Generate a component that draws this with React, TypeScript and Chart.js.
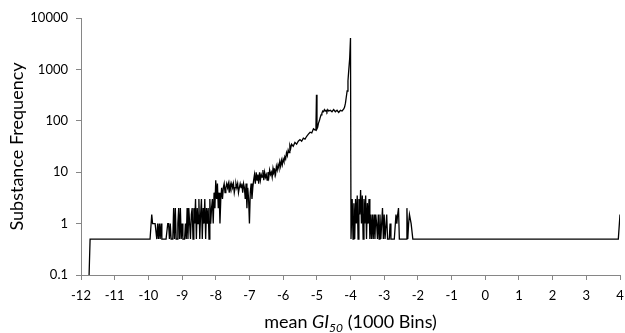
import React, { useEffect, useRef } from "react";
import { Chart, registerables } from "chart.js";

Chart.register(...registerables);

// [bin centre (mean GI50), substance frequency]; empty bins are shown as 0.5
const leftTail: number[][] = [
  [-11.76, 0.1], [-11.73, 0.5], [-10.0, 0.5],
];

const lowRegion: number[][] = [
  [-9.975, 0.5], [-9.95, 0.5], [-9.925, 0.5], [-9.9, 1.5], [-9.875, 1], [-9.85, 1], [-9.825, 1],
  [-9.8, 1], [-9.775, 1], [-9.75, 0.5], [-9.725, 1], [-9.7, 0.5], [-9.675, 1], [-9.65, 0.5],
  [-9.625, 1], [-9.6, 0.5], [-9.575, 0.5], [-9.55, 0.5], [-9.525, 0.5], [-9.5, 0.5], [-9.475, 0.5],
  [-9.45, 0.5], [-9.425, 1], [-9.4, 1], [-9.375, 0.5], [-9.35, 1], [-9.325, 0.5], [-9.3, 0.5],
  [-9.275, 0.5], [-9.25, 2], [-9.225, 0.5], [-9.2, 2], [-9.175, 0.5], [-9.15, 0.5], [-9.125, 1],
  [-9.1, 2], [-9.075, 0.5], [-9.05, 2], [-9.025, 0.5], [-9.0, 1], [-8.975, 0.5], [-8.95, 0.5],
  [-8.925, 0.5], [-8.9, 1], [-8.875, 0.5], [-8.85, 2], [-8.825, 0.5], [-8.8, 2], [-8.775, 1],
  [-8.75, 0.5], [-8.725, 1.5], [-8.7, 2], [-8.675, 0.5], [-8.65, 2], [-8.625, 1], [-8.6, 3],
  [-8.575, 0.5], [-8.55, 2], [-8.525, 1], [-8.5, 3], [-8.475, 0.5], [-8.45, 1.5], [-8.425, 3],
  [-8.4, 0.5], [-8.375, 2], [-8.35, 1], [-8.325, 3], [-8.3, 0.5], [-8.275, 2], [-8.25, 1],
  [-8.225, 2], [-8.2, 0.5], [-8.175, 3], [-8.15, 1], [-8.125, 2], [-8.1, 3], [-8.075, 1],
  [-8.05, 4], [-8.025, 2], [-8.0, 7],
];

const riseRegion: number[][] = [
  [-7.975, 3], [-7.95, 6], [-7.925, 2], [-7.9, 4], [-7.875, 1], [-7.85, 3], [-7.825, 5],
  [-7.8, 3], [-7.775, 5], [-7.75, 6], [-7.725, 4], [-7.7, 5], [-7.675, 6], [-7.65, 5],
  [-7.625, 6], [-7.6, 4], [-7.575, 6], [-7.55, 5], [-7.525, 6], [-7.5, 5], [-7.475, 6],
  [-7.45, 4], [-7.425, 5], [-7.4, 6], [-7.375, 5], [-7.35, 6], [-7.325, 4], [-7.3, 5],
  [-7.275, 6], [-7.25, 5], [-7.225, 6], [-7.2, 4], [-7.175, 6], [-7.15, 5], [-7.125, 3],
  [-7.1, 6], [-7.075, 2], [-7.05, 5], [-7.025, 3], [-7.0, 1], [-6.975, 4], [-6.95, 6],
  [-6.925, 3], [-6.9, 5], [-6.875, 7], [-6.85, 9], [-6.825, 6], [-6.8, 10], [-6.775, 7],
  [-6.75, 9], [-6.725, 6], [-6.7, 10], [-6.675, 7], [-6.65, 9], [-6.625, 8], [-6.6, 11],
  [-6.575, 7], [-6.55, 10], [-6.525, 8], [-6.5, 9], [-6.475, 7], [-6.45, 10], [-6.425, 8],
  [-6.4, 11], [-6.375, 9], [-6.35, 10], [-6.325, 8], [-6.3, 12], [-6.275, 10], [-6.25, 11],
  [-6.225, 9], [-6.2, 13], [-6.175, 11], [-6.15, 14], [-6.125, 12], [-6.1, 16], [-6.075, 13],
  [-6.05, 17], [-6.025, 14], [-6.0, 18], [-5.975, 16], [-5.95, 20], [-5.925, 18], [-5.9, 24],
  [-5.875, 21], [-5.85, 27], [-5.825, 24], [-5.8, 33], [-5.775, 29], [-5.75, 35], [-5.7, 32],
  [-5.65, 38], [-5.6, 35], [-5.55, 40], [-5.5, 43], [-5.45, 40], [-5.4, 46], [-5.35, 44],
  [-5.3, 50], [-5.25, 55], [-5.2, 60], [-5.15, 58], [-5.1, 70], [-5.05, 66], [-5.025, 80],
  [-5.01, 320], [-4.995, 70], [-4.975, 75], [-4.95, 90], [-4.925, 100], [-4.9, 115],
  [-4.875, 130], [-4.85, 140], [-4.825, 155], [-4.8, 150], [-4.775, 165], [-4.75, 155],
  [-4.725, 160], [-4.7, 150], [-4.675, 165], [-4.65, 155], [-4.6, 160], [-4.55, 150],
  [-4.5, 165], [-4.45, 150], [-4.4, 160], [-4.35, 145], [-4.3, 160], [-4.25, 155],
  [-4.2, 170], [-4.175, 185], [-4.15, 220], [-4.125, 290], [-4.1, 380], [-4.075, 600],
  [-4.05, 1000], [-4.025, 1600], [-4.0, 4100],
];

const afterPeak: number[][] = [
  [-3.985, 0.5], [-3.975, 0.5], [-3.95, 3], [-3.925, 0.5], [-3.9, 2.5], [-3.875, 0.5],
  [-3.85, 3], [-3.825, 1], [-3.8, 3.5], [-3.775, 0.5], [-3.75, 3], [-3.725, 1.5], [-3.7, 4.5],
  [-3.675, 1], [-3.65, 3.5], [-3.625, 0.5], [-3.6, 3], [-3.575, 1], [-3.55, 3.5], [-3.525, 0.5],
  [-3.5, 2.5], [-3.475, 1], [-3.45, 3], [-3.425, 0.5], [-3.4, 1.5], [-3.375, 0.5], [-3.35, 1.5],
  [-3.325, 0.5], [-3.3, 1.5], [-3.275, 0.5], [-3.25, 1.5], [-3.225, 1], [-3.2, 0.5],
  [-3.175, 1.5], [-3.15, 0.5], [-3.125, 1.5], [-3.1, 0.5], [-3.075, 1], [-3.05, 2],
  [-3.025, 0.5], [-3.0, 1.5], [-2.975, 0.5], [-2.95, 0.5], [-2.925, 1.5], [-2.9, 0.5],
  [-2.875, 0.5], [-2.85, 0.5], [-2.825, 1], [-2.8, 0.5], [-2.75, 0.5], [-2.7, 0.5],
  [-2.65, 1.5], [-2.625, 1], [-2.6, 1.5], [-2.575, 2], [-2.55, 0.5], [-2.5, 0.5], [-2.35, 0.5],
  [-2.325, 2], [-2.3, 0.5], [-2.275, 1], [-2.25, 1.5], [-2.2, 1], [-2.15, 0.5],
];

const rightTail: number[][] = [
  [3.95, 0.5], [4.0, 1.5],
];

const xTicks = [-12, -11, -10, -9, -8, -7, -6, -5, -4, -3, -2, -1, 0, 1, 2, 3, 4];
const yTicks = [0.1, 1, 10, 100, 1000, 10000];
const yTickLabels = ["0.1", "1", "10", "100", "1000", "10000"];

const FONT = "Lato, 'DejaVu Sans', sans-serif";

const xTitlePlugin = {
  id: "xTitle",
  afterDraw(chart: any) {
    const ctx = chart.ctx;
    const area = chart.chartArea;
    const parts = [
      { t: "mean ", f: `18px ${FONT}`, dy: 0 },
      { t: "GI", f: `italic 18px ${FONT}`, dy: 0 },
      { t: "50", f: `italic 12px ${FONT}`, dy: 4 },
      { t: " (1000 Bins)", f: `18px ${FONT}`, dy: 0 },
    ];
    ctx.save();
    let total = 0;
    for (const p of parts) {
      ctx.font = p.f;
      total += ctx.measureText(p.t).width;
    }
    let x = (area.left + area.right) / 2 - total / 2;
    const baseY = 328;
    ctx.fillStyle = "#000";
    ctx.textBaseline = "alphabetic";
    ctx.textAlign = "left";
    for (const p of parts) {
      ctx.font = p.f;
      ctx.fillText(p.t, x, baseY + p.dy);
      x += ctx.measureText(p.t).width;
    }
    ctx.restore();
  },
};

export default function App() {
  const ref = useRef<HTMLCanvasElement | null>(null);

  useEffect(() => {
    if (!ref.current) return;
    const points = [...leftTail, ...lowRegion, ...riseRegion, ...afterPeak, ...rightTail].map(
      ([x, y]) => ({ x, y })
    );
    const axisColor = "#868686";
    const chart = new Chart(ref.current, {
      type: "line",
      data: {
        datasets: [
          {
            data: points,
            borderColor: "#000",
            borderWidth: 1.3,
            pointRadius: 0,
            tension: 0,
            fill: false,
          },
        ],
      },
      options: {
        animation: false,
        responsive: false,
        maintainAspectRatio: false,
        layout: { padding: { top: 18, right: 5, left: 0, bottom: 0 } },
        plugins: {
          legend: { display: false },
          tooltip: { enabled: false },
        },
        scales: {
          x: {
            type: "linear",
            min: -12,
            max: 4,
            afterBuildTicks: (axis: any) => {
              axis.ticks = xTicks.map((v) => ({ value: v }));
            },
            afterFit: (scale: any) => {
              scale.height = 58;
              scale.paddingRight = 0;
              scale.paddingLeft = 0;
            },
            ticks: {
              color: "#000",
              font: { family: FONT, size: 13 },
              padding: 8,
              maxRotation: 0,
              autoSkip: false,
              callback: (v: any) => String(v),
            },
            grid: {
              display: true,
              drawOnChartArea: false,
              drawTicks: true,
              tickLength: 5,
              color: axisColor,
            },
            border: { display: true, color: axisColor, width: 1 },
          },
          y: {
            type: "logarithmic",
            min: 0.1,
            max: 10000,
            afterBuildTicks: (axis: any) => {
              axis.ticks = yTicks.map((v) => ({ value: v }));
            },
            afterFit: (scale: any) => {
              scale.width = 81;
              scale.paddingTop = 0;
              scale.paddingBottom = 0;
            },
            ticks: {
              color: "#000",
              font: { family: FONT, size: 13 },
              padding: 8,
              autoSkip: false,
              callback: (_v: any, i: number) => yTickLabels[i],
            },
            grid: {
              display: true,
              drawOnChartArea: false,
              drawTicks: true,
              tickLength: 5,
              color: axisColor,
            },
            border: { display: true, color: axisColor, width: 1 },
            title: {
              display: true,
              text: "Substance Frequency",
              color: "#000",
              font: { family: FONT, size: 18 },
              padding: { top: 6, bottom: 0 },
            },
          },
        },
      },
      plugins: [xTitlePlugin],
    });
    return () => chart.destroy();
  }, []);

  return (
    <div style={{ position: "fixed", left: 0, top: 0, width: 625, height: 333, background: "#fff" }}>
      <canvas ref={ref} width={625} height={333} style={{ width: 625, height: 333, display: "block" }} />
    </div>
  );
}
